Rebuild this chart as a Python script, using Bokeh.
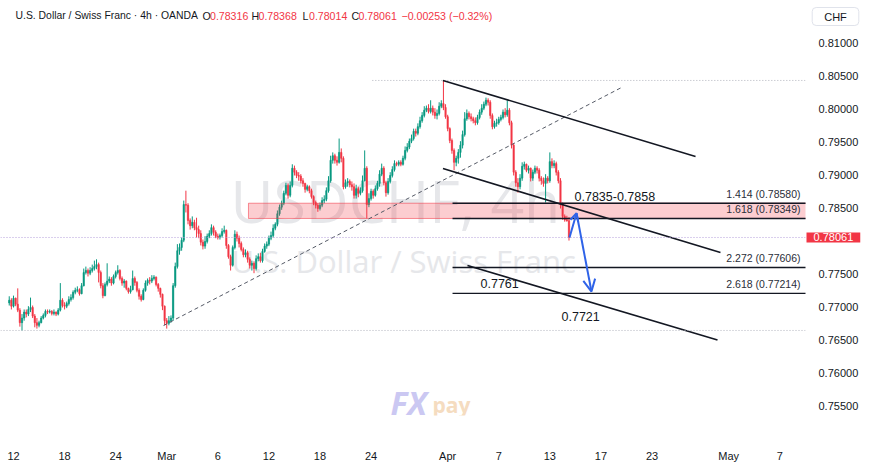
import numpy as np
from bokeh.plotting import figure
from bokeh.models import (ColumnDataSource, FixedTicker, NumeralTickFormatter, Range1d,
                          Label, Arrow, OpenHead, Span)
from bokeh.core.properties import value
from bokeh.embed import file_html
from bokeh.resources import INLINE

# ---------------- data (USD/CHF, 4h bars, grouped per trading day) ----------------
first_day = -1          # trading-day index of the first group (Feb 11)
first_slot = 4          # first group starts at its 5th 4h bar
first_open = 0.7707

closes_by_day = [
    [.7711, .7702],
    [.7714, .7705, .7696, .7677, .7684, .7693],
    [.7690, .7697, .7700, .7687, .7677, .7673],
    [.7677, .7684, .7688, .7694, .7693, .7694],
    [.7691, .7693, .7690, .7696, .7711, .7703],
    [.7702, .7706, .7712, .7715, .7723, .7726],
    [.7727, .7721, .7733, .7753, .7756, .7752],
    [.7756, .7759, .7762, .7765, .7753, .7733],
    [.7718, .7735, .7740, .7743, .7737, .7747],
    [.7753, .7756, .7744, .7737, .7740, .7729],
    [.7724, .7727, .7744, .7738, .7726, .7717],
    [.7712, .7726, .7737, .7741, .7740, .7744],
    [.7746, .7735, .7729, .7720, .7702, .7680],
    [.7676, .7680, .7684, .7733, .7762, .7786],
    [.7791, .7802, .7856, .7855, .7832, .7824],
    [.7829, .7821, .7818, .7812, .7799, .7793],
    [.7800, .7808, .7812, .7821, .7814, .7808],
    [.7806, .7809, .7815, .7817, .7794, .7777],
    [.7764, .7791, .7811, .7805, .7797, .7788],
    [.7780, .7783, .7773, .7764, .7767, .7759],
    [.7774, .7777, .7771, .7785, .7793, .7796],
    [.7805, .7809, .7820, .7826, .7842, .7852],
    [.7858, .7873, .7885, .7870, .7885, .7911],
    [.7905, .7900, .7899, .7892, .7888, .7879],
    [.7883, .7877, .7868, .7859, .7855, .7850],
    [.7855, .7862, .7864, .7877, .7892, .7923],
    [.7930, .7923, .7920, .7935, .7926, .7883],
    [.7889, .7891, .7886, .7883, .7870, .7880],
    [.7873, .7877, .7892, .7911, .7856, .7865],
    [.7876, .7870, .7880, .7888, .7902, .7911],
    [.7889, .7874, .7891, .7900, .7909, .7918],
    [.7917, .7920, .7917, .7926, .7938, .7943],
    [.7952, .7956, .7967, .7964, .7974, .7983],
    [.7991, .7999, .8002, .7997, .8002, .7996],
    [.7991, .7994, .8005, .8009, .8003, .7989],
    [.7971, .7953, .7938, .7920, .7926, .7935],
    [.7946, .7962, .7986, .7994, .7989, .7986],
    [.7983, .7980, .7988, .7996, .8002, .8008],
    [.8014, .8011, .7991, .7974, .7979, .7980],
    [.7985, .7988, .7996, .7992, .7999, .7980],
    [.7946, .7905, .7889, .7883, .7896, .7914],
    [.7917, .7908, .7911, .7896, .7905, .7911],
    [.7908, .7896, .7892, .7888, .7896, .7892],
    [.7921, .7915, .7918, .7905, .7892, .7856],
    [.7838, .7833, .78316, .78061],
]

highs_by_day = [
    [.7717, .7714],
    [.7718, .7715, .7729, .7699, .7690, .7697],
    [.7697, .7702, .7715, .7703, .7690, .7684],
    [.7680, .7687, .7691, .7697, .7697, .7697],
    [.7696, .7697, .7694, .7699, .7737, .7714],
    [.7708, .7709, .7717, .7720, .7726, .7730],
    [.7732, .7729, .7737, .7759, .7762, .7759],
    [.7761, .7765, .7771, .7773, .7768, .7756],
    [.7737, .7738, .7767, .7747, .7746, .7750],
    [.7756, .7764, .7758, .7747, .7743, .7741],
    [.7730, .7733, .7756, .7747, .7740, .7729],
    [.7720, .7729, .7741, .7744, .7746, .7749],
    [.7749, .7747, .7737, .7730, .7721, .7703],
    [.7684, .7687, .7688, .7737, .7768, .7796],
    [.7797, .7806, .7862, .7877, .7858, .7835],
    [.7838, .7833, .7836, .7824, .7817, .7803],
    [.7808, .7812, .7817, .7826, .7824, .7817],
    [.7812, .7812, .7820, .7824, .7818, .7796],
    [.7780, .7794, .7817, .7815, .7809, .7800],
    [.7791, .7788, .7786, .7776, .7771, .7770],
    [.7779, .7782, .7783, .7789, .7797, .7800],
    [.7809, .7815, .7826, .7829, .7847, .7856],
    [.7862, .7877, .7889, .7888, .7891, .7917],
    [.7915, .7908, .7905, .7902, .7896, .7889],
    [.7886, .7885, .7880, .7870, .7862, .7858],
    [.7859, .7867, .7870, .7882, .7899, .7930],
    [.7935, .7933, .7929, .7956, .7941, .7929],
    [.7894, .7896, .7894, .7891, .7888, .7886],
    [.7883, .7882, .7900, .7938, .7914, .7873],
    [.7880, .7879, .7885, .7892, .7908, .7918],
    [.7914, .7892, .7896, .7905, .7914, .7923],
    [.7921, .7923, .7923, .7930, .7944, .7949],
    [.7956, .7962, .7971, .7971, .7979, .7989],
    [.7996, .8005, .8006, .8008, .8014, .8006],
    [.8002, .8000, .8011, .8014, .8044, .8008],
    [.7992, .7973, .7956, .7941, .7930, .7940],
    [.7952, .7968, .7996, .8000, .7997, .7994],
    [.7989, .7988, .7992, .8000, .8008, .8012],
    [.8018, .8017, .8014, .7994, .7983, .7986],
    [.7989, .7992, .8000, .8002, .8014, .8002],
    [.7983, .7949, .7908, .7896, .7902, .7920],
    [.7921, .7918, .7915, .7912, .7909, .7915],
    [.7914, .7911, .7899, .7897, .7902, .7899],
    [.7935, .7926, .7923, .7921, .7908, .7896],
    [.7859, .7841, .7839, .78368],
]

lows_by_day = [
    [.7703, .7697],
    [.7700, .7702, .7693, .7671, .7665, .7680],
    [.7685, .7687, .7693, .7684, .7670, .7668],
    [.7670, .7676, .7682, .7685, .7690, .7691],
    [.7688, .7688, .7687, .7688, .7694, .7700],
    [.7697, .7699, .7703, .7709, .7712, .7720],
    [.7723, .7718, .7720, .7732, .7750, .7747],
    [.7749, .7753, .7756, .7758, .7738, .7729],
    [.7714, .7717, .7732, .7737, .7733, .7735],
    [.7744, .7750, .7741, .7733, .7730, .7726],
    [.7721, .7721, .7726, .7733, .7723, .7712],
    [.7709, .7711, .7724, .7733, .7735, .7737],
    [.7741, .7732, .7724, .7715, .7696, .7673],
    [.7668, .7673, .7677, .7680, .7730, .7759],
    [.7780, .7786, .7799, .7844, .7826, .7818],
    [.7820, .7817, .7806, .7805, .7794, .7788],
    [.7789, .7797, .7805, .7809, .7809, .7805],
    [.7803, .7803, .7806, .7812, .7789, .7774],
    [.7756, .7762, .7788, .7800, .7791, .7785],
    [.7776, .7776, .7768, .7759, .7756, .7752],
    [.7756, .7770, .7768, .7768, .7783, .7789],
    [.7793, .7802, .7806, .7817, .7823, .7839],
    [.7848, .7855, .7870, .7865, .7867, .7882],
    [.7900, .7896, .7892, .7888, .7883, .7874],
    [.7876, .7873, .7865, .7855, .7850, .7845],
    [.7847, .7852, .7858, .7861, .7874, .7889],
    [.7918, .7918, .7915, .7918, .7920, .7879],
    [.7880, .7883, .7882, .7877, .7865, .7865],
    [.7867, .7870, .7874, .7891, .7835, .7852],
    [.7862, .7865, .7868, .7877, .7883, .7899],
    [.7885, .7868, .7871, .7888, .7897, .7906],
    [.7914, .7914, .7914, .7915, .7923, .7935],
    [.7940, .7949, .7953, .7959, .7961, .7971],
    [.7980, .7988, .7996, .7994, .7994, .7991],
    [.7986, .7985, .7991, .8002, .7999, .7986],
    [.7967, .7949, .7933, .7908, .7914, .7918],
    [.7927, .7941, .7959, .7983, .7985, .7982],
    [.7979, .7976, .7977, .7985, .7992, .7999],
    [.8005, .8006, .7986, .7970, .7971, .7974],
    [.7977, .7982, .7985, .7988, .7989, .7976],
    [.7941, .7900, .7883, .7874, .7879, .7892],
    [.7909, .7905, .7903, .7891, .7892, .7902],
    [.7903, .7891, .7886, .7883, .7859, .7888],
    [.7889, .7911, .7911, .7900, .7888, .7850],
    [.7833, .7830, .7830, .78014],
]

# time axis (trading-day index; weekends skipped)
day_ticks = [0, 4, 8, 12, 16, 20, 24, 28, 34, 38, 42, 46, 50, 56, 60]
day_labels = ["12", "18", "24", "Mar", "6", "12", "18", "24", "Apr", "7", "13", "17", "23", "May", "7"]
price_ticks = [0.750, 0.755, 0.760, 0.765, 0.770, 0.775, 0.785, 0.790, 0.795, 0.800, 0.805, 0.810]

# analysis drawings (day index, price)
fib_ratios = ["1.414", "1.618", "2.272", "2.618"]
fib_levels = [0.78580, 0.78349, 0.77606, 0.77214]
fib_start = 34.38
zone_start = 18.40
zone_bottom, zone_top = 0.78349, 0.78580
upper_channel_x, upper_channel_y = [33.63, 53.41], [0.80440, 0.79288]
mid_channel_x, mid_channel_y = [33.63, 55.36], [0.79106, 0.77833]
low_channel_x, low_channel_y = [35.55, 55.13], [0.77636, 0.76508]
trend_x, trend_y = [11.75, 47.61], [0.76727, 0.80333]
arrow_x, arrow_y = [43.54, 44.09, 45.26], [0.78061, 0.78429, 0.77242]
period_high, period_high_start = 0.80440, 28.1
period_low = 0.76652
last_price = 0.78061
change, change_pct = -0.00253, -0.32

# ---------------- build candles ----------------
xs, cl, hi, lo = [], [], [], []
slot = first_slot
for d, (cday, hday, lday) in enumerate(zip(closes_by_day, highs_by_day, lows_by_day)):
    for c, h, l in zip(cday, hday, lday):
        xs.append(first_day + slot / 6.0)
        cl.append(c); hi.append(h); lo.append(l)
        slot += 1
    slot = 6 * (d + 1)
xs = np.array(xs); cl = np.array(cl)
op = np.concatenate([[first_open], cl[:-1]])
hi = np.maximum.reduce([np.array(hi), op, cl])
lo = np.minimum.reduce([np.array(lo), op, cl])
UP, DN = "#089981", "#f23645"
colors = [UP if c >= o else DN for o, c in zip(op, cl)]
src = ColumnDataSource(dict(x=xs, o=op, c=cl, h=hi, l=lo,
                            top=np.maximum(op, cl), bot=np.minimum(op, cl), color=colors))

# layout helpers (page pixel -> data) used only to place texts
PX0, PXD = 13.0, 12.77
def xpos(px):
    return (px - PX0) / PXD
def ypos(py):
    return 0.816515 - py / 6600.0

W, H = 870, 466
FW, FH = 805, 415
FONT = "Liberation Sans"
p = figure(frame_width=FW, frame_height=FH, output_backend="svg", toolbar_location=None,
           x_range=Range1d(xpos(0), xpos(FW)), y_range=Range1d(ypos(FH), ypos(0)),
           y_axis_location="right", min_border_left=0, min_border_top=0,
           min_border_right=W - FW, min_border_bottom=H - FH,
           background_fill_color="white", border_fill_color="white", outline_line_color=None)
p.xgrid.grid_line_color = None
p.ygrid.grid_line_color = None

for ax in (p.xaxis[0], p.yaxis[0]):
    ax.axis_line_color = None
    ax.major_tick_line_color = None
    ax.minor_tick_line_color = None
    ax.major_label_text_font = FONT
    ax.major_label_text_font_size = "11px"
    ax.major_label_text_color = "#131722"
p.xaxis.ticker = FixedTicker(ticks=day_ticks)
p.xaxis.major_label_overrides = {t: lab for t, lab in zip(day_ticks, day_labels)}
p.xaxis.major_label_standoff = 0
p.yaxis.ticker = FixedTicker(ticks=price_ticks)
p.yaxis.formatter = NumeralTickFormatter(format="0.00000")
p.yaxis.major_label_standoff = 7

# watermark
p.text(x=[xpos(230)], y=[ypos(199)], text=["USDCHF, 4h"], text_font=value("Open Sans"),
       text_font_size="59px", text_color="#e6e7ea", text_baseline="middle")
p.text(x=[xpos(231)], y=[ypos(260)], text=["U.S. Dollar / Swiss Franc"], text_font=value("Open Sans"),
       text_font_size="31px", text_color="#e6e7ea", text_baseline="middle")
p.text(x=[xpos(390)], y=[ypos(402)], text=["FX"], text_font=value("Open Sans"),
       text_font_size="32px", text_font_style="bold italic", text_color="#cbc8f2", text_baseline="middle")
p.text(x=[xpos(432)], y=[ypos(404)], text=["pay"], text_font=value("Open Sans"),
       text_font_size="21px", text_font_style="bold", text_color="#f5dcc0", text_baseline="middle")

# horizontal reference lines
p.add_layout(Span(location=period_low, dimension="width", line_color="#b2b5be",
                  line_dash="1 2", line_width=1))
p.add_layout(Span(location=last_price, dimension="width", line_color="#b39ddb",
                  line_dash="1 2", line_width=1))
p.segment(x0=[period_high_start], y0=[period_high], x1=[70], y1=[period_high],
          line_color="#b2b5be", line_dash="1 2", line_width=1)

# candles
p.segment(x0="x", y0="l", x1="x", y1="h", source=src, line_color="color", line_width=1)
p.vbar(x="x", width=0.105, top="top", bottom="bot", source=src,
       fill_color="color", line_color="color", line_width=0.6)

# resistance zone
p.quad(left=[zone_start], right=[70], bottom=[zone_bottom], top=[zone_top],
       fill_color="#f23645", fill_alpha=0.25, line_color="#f23645", line_alpha=0.55, line_width=1)

# dashed trend line
p.line(trend_x, trend_y, line_color="#555a66", line_width=1, line_dash="4 3")
# channel
for cx, cy in ((upper_channel_x, upper_channel_y), (mid_channel_x, mid_channel_y),
               (low_channel_x, low_channel_y)):
    p.line(cx, cy, line_color="#131722", line_width=1.6)
# fib extension lines
p.segment(x0=[fib_start] * 4, y0=fib_levels, x1=[70] * 4, y1=fib_levels,
          line_color="#131722", line_width=1.4)
p.text(x=[xpos(800)] * 4, y=[lv + 0.00145 for lv in fib_levels],
       text=[f"{r} ({lv:.5f})" for r, lv in zip(fib_ratios, fib_levels)],
       text_font=value(FONT), text_font_size="10.5px", text_color="#2a2e39",
       text_align="right", text_baseline="middle")

# level annotations
p.text(x=[xpos(574), xpos(480), xpos(561)], y=[ypos(196), ypos(283), ypos(316)],
       text=[f"{zone_bottom:.4f}-{zone_top:.4f}", f"{fib_levels[2]:.4f}", f"{fib_levels[3]:.4f}"],
       text_font=value(FONT), text_font_size="12.5px", text_color="#131722",
       text_align="left", text_baseline="middle")

# projected path arrows
BLUE = "#2f63e8"
p.add_layout(Arrow(end=OpenHead(size=8, line_color=BLUE, line_width=2),
                   x_start=arrow_x[0], y_start=arrow_y[0], x_end=arrow_x[1], y_end=arrow_y[1],
                   line_color=BLUE, line_width=2))
p.add_layout(Arrow(end=OpenHead(size=12, line_color=BLUE, line_width=2),
                   x_start=arrow_x[1], y_start=arrow_y[1], x_end=arrow_x[2], y_end=arrow_y[2],
                   line_color=BLUE, line_width=2))

# header legend
o_last, h_last, l_last, c_last = op[-1], hi[-1], lo[-1], cl[-1]
hx = [xpos(15), xpos(202), xpos(209.5), xpos(251), xpos(258), xpos(302), xpos(308.5),
      xpos(351), xpos(358), xpos(401)]
htxt = ["U.S. Dollar / Swiss Franc \u00b7 4h \u00b7 OANDA", "O", f"{o_last:.5f}", "H", f"{h_last:.5f}",
        "L", f"{l_last:.5f}", "C", f"{c_last:.5f}",
        f"\u2212{abs(change):.5f} (\u2212{abs(change_pct):.2f}%)"]
hcol = ["#131722", "#131722", DN, "#131722", DN, "#131722", DN, "#131722", DN, DN]
hsize = ["10.4px"] + ["10.6px"] * 9
p.text(x=hx, y=[ypos(15)] * len(hx), text=htxt, text_color=hcol, text_font=value(FONT),
       text_font_size=hsize, text_align="left", text_baseline="middle")

# price-scale widgets (placed in side panels so they are not clipped to the frame)
tag = Label(x=xpos(806), y=last_price, text=f"{last_price:.5f}", text_color="white",
            text_font=FONT, text_font_size="11px", text_align="left", text_baseline="middle",
            background_fill_color=DN, padding=dict(left=7, right=7, top=1, bottom=1))
chf = Label(x=xpos(835), y=ypos(16), text="CHF", text_color="#131722",
            text_font=FONT, text_font_size="11px", text_align="center", text_baseline="middle",
            background_fill_color="white", border_line_color="#e0e3eb", border_radius=4,
            padding=dict(left=12, right=12, top=3, bottom=3))
p.below = [tag, chf] + list(p.below)

open("out.html", "w").write(file_html(p, INLINE))
